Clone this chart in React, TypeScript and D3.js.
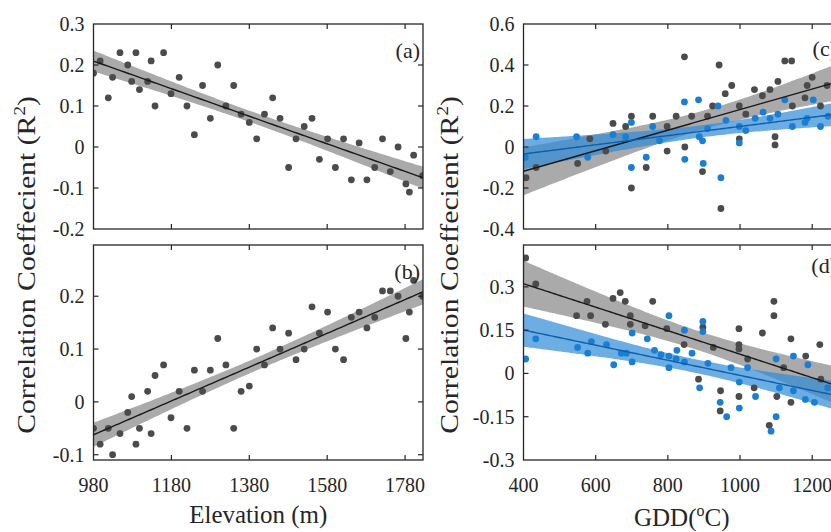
import React from 'react';
import * as d3 from 'd3';

// ---------- data ----------
const elevation = [980, 997, 1018, 1029, 1048, 1068, 1078, 1089, 1098, 1119, 1128, 1138, 1160, 1179, 1200, 1220, 1239, 1260, 1280, 1299, 1320, 1340, 1359, 1380, 1399, 1419, 1440, 1459, 1481, 1500, 1521, 1541, 1560, 1581, 1601, 1622, 1642, 1662, 1682, 1702, 1722, 1742, 1762, 1782, 1791, 1802, 1825];
const corrA = [0.18, 0.21, 0.12, 0.17, 0.23, 0.20, 0.16, 0.23, 0.14, 0.16, 0.21, 0.10, 0.23, 0.13, 0.17, 0.10, 0.03, 0.15, 0.07, 0.20, 0.10, 0.15, 0.08, 0.06, 0.02, 0.08, 0.12, 0.07, -0.05, 0.02, 0.05, 0.07, -0.03, 0.02, -0.05, 0.02, -0.08, 0.01, -0.08, -0.05, 0.02, -0.06, 0.00, -0.09, -0.11, -0.02, -0.07];
const corrB = [-0.05, -0.08, -0.05, -0.10, -0.06, -0.02, 0.01, -0.08, -0.05, 0.02, -0.06, 0.05, 0.07, -0.03, 0.02, -0.05, 0.06, 0.02, 0.06, 0.12, 0.07, -0.05, 0.02, 0.03, 0.10, 0.07, 0.14, 0.10, 0.13, 0.08, 0.10, 0.18, 0.13, 0.17, 0.10, 0.08, 0.16, 0.17, 0.14, 0.16, 0.21, 0.21, 0.20, 0.12, 0.17, 0.23, 0.20];

const gddCGray = [407, 435, 550, 584, 628, 648, 683, 699, 699, 740, 758, 798, 798, 823, 846, 847, 866, 896, 910, 924, 942, 947, 959, 977, 998, 998, 1016, 1040, 1062, 1083, 1097, 1097, 1105, 1124, 1143, 1145, 1180, 1186, 1200, 1223, 1241];
const corrCGray = [-0.15, -0.10, -0.08, 0.04, -0.02, 0.115, 0.10, 0.15, -0.20, -0.10, 0.15, 0.10, -0.02, 0.15, 0.44, 0.00, 0.15, -0.12, 0.15, 0.20, 0.40, -0.30, 0.26, 0.30, 0.20, 0.04, 0.16, 0.28, 0.25, 0.28, 0.05, 0.01, 0.32, 0.42, 0.42, 0.20, 0.24, 0.30, 0.34, 0.20, 0.30];
const gddCBlue = [405, 435, 547, 578, 648, 683, 699, 699, 740, 758, 777, 846, 847, 885, 887, 896, 898, 910, 939, 947, 961, 998, 998, 1016, 1042, 1064, 1083, 1105, 1124, 1145, 1180, 1186, 1203, 1223, 1244];
const corrCBlue = [-0.05, 0.05, 0.05, -0.05, 0.06, 0.05, 0.12, -0.10, -0.05, 0.10, 0.03, 0.22, -0.06, 0.23, 0.05, 0.03, -0.08, 0.09, 0.20, -0.15, 0.13, 0.10, 0.02, 0.08, 0.14, 0.17, 0.14, 0.16, 0.23, 0.10, 0.12, 0.14, 0.23, 0.10, 0.15];

const gddDGray = [406, 434, 547, 576, 586, 627, 648, 668, 682, 696, 696, 737, 758, 797, 845, 885, 897, 926, 945, 946, 997, 997, 997, 997, 1021, 1039, 1062, 1081, 1094, 1094, 1102, 1121, 1141, 1141, 1182, 1221, 1224];
const corrDGray = [0.40, 0.31, 0.20, 0.25, 0.20, 0.17, 0.26, 0.28, 0.25, 0.20, 0.17, 0.165, 0.25, 0.155, 0.10, -0.02, 0.16, 0.09, -0.13, -0.06, 0.155, 0.10, 0.085, -0.08, 0.05, -0.05, 0.14, -0.18, 0.25, 0.20, -0.08, 0.02, 0.12, -0.10, 0.06, 0.10, -0.02];
const gddDBlue = [406, 434, 550, 578, 588, 630, 650, 671, 685, 701, 701, 743, 763, 781, 803, 803, 803, 823, 825, 846, 846, 867, 888, 897, 897, 911, 945, 963, 975, 998, 998, 1021, 1043, 1086, 1100, 1100, 1109, 1148, 1148, 1181, 1188, 1206, 1243];
const corrDBlue = [0.05, 0.12, 0.09, 0.07, 0.11, 0.10, 0.03, 0.07, 0.07, 0.14, 0.04, 0.12, 0.08, 0.065, 0.20, 0.06, 0.02, 0.05, 0.08, 0.15, 0.04, 0.07, -0.05, 0.18, 0.145, 0.035, -0.10, -0.15, 0.02, -0.03, -0.12, 0.02, -0.08, -0.20, 0.05, -0.15, -0.05, 0.06, -0.06, -0.09, 0.03, -0.10, -0.05];

const elevTicks = [980, 1180, 1380, 1580, 1780];
const gddTicks = [400, 600, 800, 1000, 1200];
const yTicksA = [-0.2, -0.1, 0, 0.1, 0.2, 0.3];
const yTicksB = [-0.1, 0, 0.1, 0.2];
const yTicksC = [-0.4, -0.2, 0, 0.2, 0.4, 0.6];
const yTicksD = [-0.3, -0.15, 0, 0.15, 0.3];

// ---------- styling ----------
const FONT = '"Liberation Serif", "Times New Roman", serif';
const GRAY_PT = '#4b4b4b';
const BLUE_PT = '#1a7fd2';
const GRAY_BAND = '#7d7d7d';
const BLUE_BAND = '#2e8ad8';
const GRAY_LINE = '#1a1a1a';
const BLUE_LINE = '#0d5fa8';

type Series = { xs: number[]; ys: number[]; pt: string; line: string; band: string; bandOp: number };

function fit(xs: number[], ys: number[]) {
  const n = xs.length;
  const xbar = d3.mean(xs) as number;
  const ybar = d3.mean(ys) as number;
  let sxx = 0, sxy = 0;
  for (let i = 0; i < n; i++) { sxx += (xs[i] - xbar) ** 2; sxy += (xs[i] - xbar) * (ys[i] - ybar); }
  const b = sxy / sxx;
  const a = ybar - b * xbar;
  let sse = 0;
  for (let i = 0; i < n; i++) sse += (ys[i] - a - b * xs[i]) ** 2;
  const s = Math.sqrt(sse / (n - 2));
  return { a, b, s, n, xbar, sxx };
}

const fmt = (v: number) => (v === 0 ? '0' : String(v));

type PanelProps = {
  id: string; left: number; right: number; top: number; bottom: number;
  xDomain: [number, number]; yDomain: [number, number];
  xTicks: number[]; yTicks: number[]; showXLabels: boolean;
  series: Series[]; label: string; labelDy: number;
};

function Panel(p: PanelProps) {
  const x = d3.scaleLinear().domain(p.xDomain).range([p.left, p.right]);
  const y = d3.scaleLinear().domain(p.yDomain).range([p.bottom, p.top]);
  const [x0, x1] = x.domain();
  const grid = d3.range(0, 121).map((i) => x0 + ((x1 - x0) * i) / 120);
  const T = 2.01;
  const tick = 5;
  const eps = 0.5;
  const innerX = p.xTicks.filter((t) => Math.abs(x(t) - p.left) > eps && Math.abs(x(t) - p.right) > eps);
  const innerY = p.yTicks.filter((t) => Math.abs(y(t) - p.top) > eps && Math.abs(y(t) - p.bottom) > eps);

  const fits = p.series.map((s) => fit(s.xs, s.ys));
  const areaGen = (f: ReturnType<typeof fit>) =>
    d3.area<number>()
      .x((v) => x(v))
      .y0((v) => y(f.a + f.b * v - T * f.s * Math.sqrt(1 / f.n + (v - f.xbar) ** 2 / f.sxx)))
      .y1((v) => y(f.a + f.b * v + T * f.s * Math.sqrt(1 / f.n + (v - f.xbar) ** 2 / f.sxx)))(grid) as string;
  const lineGen = (f: ReturnType<typeof fit>) =>
    d3.line<number>().x((v) => x(v)).y((v) => y(f.a + f.b * v))(grid) as string;

  return (
    <g>
      <defs>
        <clipPath id={`clip-${p.id}`}>
          <rect x={p.left} y={p.top} width={p.right - p.left} height={p.bottom - p.top} />
        </clipPath>
      </defs>
      <g clipPath={`url(#clip-${p.id})`}>
        {p.series.map((s, i) => (
          <path key={`b${i}`} d={areaGen(fits[i])} fill={s.band} fillOpacity={s.bandOp} stroke="none" />
        ))}
        {p.series.map((s, i) => (
          <g key={`p${i}`}>
            {s.xs.map((xv, j) => (
              <circle key={j} cx={x(xv)} cy={y(s.ys[j])} r={3.4} fill={s.pt} />
            ))}
          </g>
        ))}
        {p.series.map((s, i) => (
          <path key={`l${i}`} d={lineGen(fits[i])} fill="none" stroke={s.line} strokeWidth={1.4} />
        ))}
      </g>
      {/* box */}
      <rect x={p.left} y={p.top} width={p.right - p.left} height={p.bottom - p.top} fill="none" stroke="#262626" strokeWidth={1.3} />
      {/* inward ticks */}
      {innerX.map((t) => (
        <g key={`xt${t}`} stroke="#262626" strokeWidth={1.2}>
          <line x1={x(t)} x2={x(t)} y1={p.bottom} y2={p.bottom - tick} />
          <line x1={x(t)} x2={x(t)} y1={p.top} y2={p.top + tick} />
        </g>
      ))}
      {innerY.map((t) => (
        <g key={`yt${t}`} stroke="#262626" strokeWidth={1.2}>
          <line x1={p.left} x2={p.left + tick} y1={y(t)} y2={y(t)} />
          <line x1={p.right} x2={p.right - tick} y1={y(t)} y2={y(t)} />
        </g>
      ))}
      {/* tick labels */}
      {p.yTicks.map((t) => (
        <text key={`yl${t}`} x={p.left - 9} y={y(t)} dy="0.35em" textAnchor="end" fontFamily={FONT} fontSize={20} fill="#262626">
          {fmt(t)}
        </text>
      ))}
      {p.showXLabels &&
        p.xTicks.map((t) => (
          <text key={`xl${t}`} x={x(t)} y={492} textAnchor="middle" fontFamily={FONT} fontSize={20} fill="#262626">
            {fmt(t)}
          </text>
        ))}
      <text x={p.right - 3} y={p.top + p.labelDy} textAnchor="end" fontFamily={FONT} fontSize={22} fill="#262626">
        {p.label}
      </text>
    </g>
  );
}

export default function App() {
  const L1 = 93.5, R1 = 423, L2 = 523.5, R2 = 840;
  const T1 = 24, B1 = 229, T2 = 245, B2 = 460;
  const elevDomain: [number, number] = [980, 1826];
  const gddDomain: [number, number] = [400, 1277];
  const gray = (xs: number[], ys: number[]): Series => ({ xs, ys, pt: GRAY_PT, line: GRAY_LINE, band: GRAY_BAND, bandOp: 0.65 });
  const blue = (xs: number[], ys: number[]): Series => ({ xs, ys, pt: BLUE_PT, line: BLUE_LINE, band: BLUE_BAND, bandOp: 0.7 });

  return (
    <svg width={831} height={532} style={{ position: 'absolute', left: 0, top: 0, background: '#fff' }}>
      <rect x={0} y={0} width={831} height={532} fill="#fff" />
      <Panel id="a" left={L1} right={R1} top={T1} bottom={B1} xDomain={elevDomain} yDomain={[-0.2, 0.3]}
        xTicks={elevTicks} yTicks={yTicksA} showXLabels={false} series={[gray(elevation, corrA)]} label="(a)" labelDy={34} />
      <Panel id="b" left={L1} right={R1} top={T2} bottom={B2} xDomain={elevDomain} yDomain={[-0.11, 0.297]}
        xTicks={elevTicks} yTicks={yTicksB} showXLabels={true} series={[gray(elevation, corrB)]} label="(b)" labelDy={34} />
      <Panel id="c" left={L2} right={R2} top={T1} bottom={B1} xDomain={gddDomain} yDomain={[-0.4, 0.6]}
        xTicks={gddTicks} yTicks={yTicksC} showXLabels={false}
        series={[gray(gddCGray, corrCGray), blue(gddCBlue, corrCBlue)]} label="(c)" labelDy={32} />
      <Panel id="d" left={L2} right={R2} top={T2} bottom={B2} xDomain={gddDomain} yDomain={[-0.3, 0.445]}
        xTicks={gddTicks} yTicks={yTicksD} showXLabels={true}
        series={[gray(gddDGray, corrDGray), blue(gddDBlue, corrDBlue)]} label="(d)" labelDy={28} />

      {/* axis titles */}
      <text x={(L1 + R1) / 2} y={523} textAnchor="middle" fontFamily={FONT} fontSize={25} fill="#262626">
        Elevation (m)
      </text>
      <text x={(L2 + R2) / 2} y={526} textAnchor="middle" fontFamily={FONT} fontSize={25} fill="#262626">
        GDD(<tspan fontSize={16} dy={-10}>o</tspan><tspan dy={10}>C)</tspan>
      </text>
      {[35, 458].map((tx) => (
        <text key={tx} transform={`translate(${tx},265) rotate(-90) scale(1.19,1)`} textAnchor="middle" fontFamily={FONT} fontSize={25} fill="#262626">
          Correlation Coeffecient (R<tspan fontSize={16} dy={-10}>2</tspan><tspan dy={10}>)</tspan>
        </text>
      ))}
    </svg>
  );
}
